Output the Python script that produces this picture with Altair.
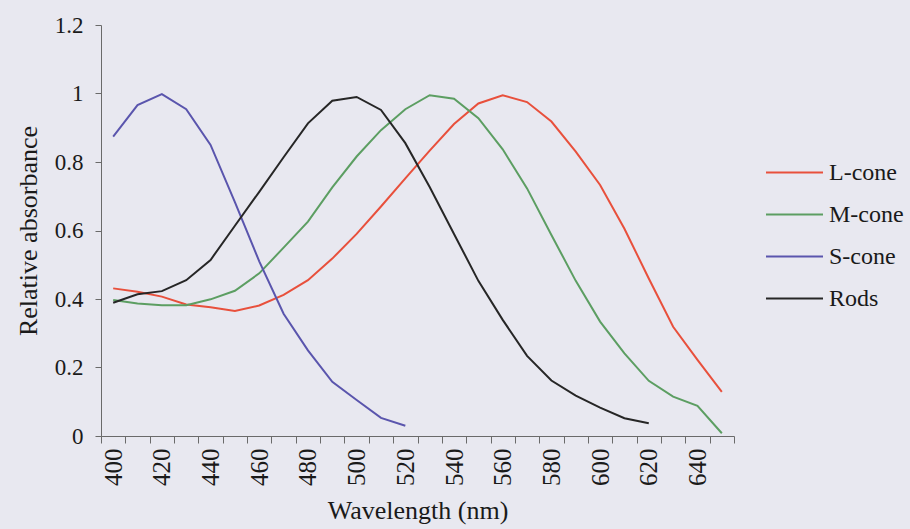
import altair as alt
import pandas as pd

wavelengths = list(range(400, 660, 10))
l_cone = [0.431, 0.421, 0.407, 0.384, 0.376, 0.365, 0.381, 0.412, 0.455, 0.518,
          0.590, 0.670, 0.752, 0.833, 0.911, 0.971, 0.995, 0.975, 0.918, 0.830,
          0.733, 0.605, 0.460, 0.319, 0.222, 0.129]
m_cone = [0.397, 0.387, 0.382, 0.382, 0.399, 0.424, 0.475, 0.550, 0.626, 0.726,
          0.816, 0.893, 0.954, 0.995, 0.985, 0.928, 0.837, 0.723, 0.587, 0.453,
          0.334, 0.241, 0.161, 0.115, 0.088, 0.008]
s_cone = [0.874, 0.966, 0.998, 0.954, 0.850, 0.683, 0.510, 0.357, 0.250, 0.158,
          0.105, 0.053, 0.030]
rods = [0.389, 0.414, 0.423, 0.455, 0.514, 0.614, 0.713, 0.814, 0.913, 0.979,
        0.990, 0.952, 0.855, 0.727, 0.590, 0.453, 0.339, 0.234, 0.162, 0.118,
        0.083, 0.052, 0.037]

series_names = ["L-cone", "M-cone", "S-cone", "Rods"]
series_values = [l_cone, m_cone, s_cone, rods]
series_colors = ["#e8503c", "#5c9e62", "#5a55ad", "#262626"]
y_ticks = [0, 0.2, 0.4, 0.6, 0.8, 1.0, 1.2]

rows = []
for name, vals in zip(series_names, series_values):
    for w, v in zip(wavelengths, vals):
        rows.append({"wavelength": w, "value": v, "series": name})
df = pd.DataFrame(rows)

FONT = "'Liberation Serif', 'Times New Roman', Times, 'DejaVu Serif', serif"

chart = (
    alt.Chart(df)
    .mark_line(strokeWidth=2)
    .encode(
        x=alt.X(
            "wavelength:O",
            bandPosition=0.5,
            scale=alt.Scale(type="band", domain=wavelengths, paddingInner=0, paddingOuter=0),
            axis=alt.Axis(
                title="Wavelength (nm)",
                labelAngle=270,
                labelExpr="datum.value % 20 == 0 ? datum.label : ''",
                labelOverlap=False,
                tickBand="extent",
                tickSize=7,
                labelPadding=5,
                labelFontSize=25,
                titleFontSize=26,
                titlePadding=12,
                labelFont=FONT,
                titleFont=FONT,
            ),
        ),
        y=alt.Y(
            "value:Q",
            scale=alt.Scale(domain=[0, 1.2], nice=False),
            axis=alt.Axis(
                title="Relative absorbance",
                values=y_ticks,
                format="~g",
                grid=False,
                tickSize=6,
                labelPadding=12,
                labelFontSize=23,
                titleFontSize=26,
                titlePadding=13,
                labelFont=FONT,
                titleFont=FONT,
            ),
        ),
        color=alt.Color(
            "series:N",
            scale=alt.Scale(domain=series_names, range=series_colors),
            legend=alt.Legend(
                title=None,
                orient="none",
                legendX=664,
                legendY=118,
                symbolType="stroke",
                symbolSize=3249,
                symbolStrokeWidth=2,
                labelFontSize=24,
                labelFont=FONT,
                labelColor="#1a1a1a",
                labelOffset=5,
                rowPadding=-17,
                padding=0,
            ),
        ),
    )
    .properties(
        width=633,
        height=411,
        autosize=alt.AutoSizeParams(type="none"),
        padding={"left": 101, "top": 25, "right": 176, "bottom": 93},
        background="#e8e8f0",
    )
    .configure_view(stroke=None)
    .configure_axis(
        labelColor="#1a1a1a",
        titleColor="#1a1a1a",
        titleFontWeight="normal",
        domainColor="#6a6a6a",
        tickColor="#6a6a6a",
    )
)

chart.save("out.html", embed_options={"renderer": "svg", "actions": False})
